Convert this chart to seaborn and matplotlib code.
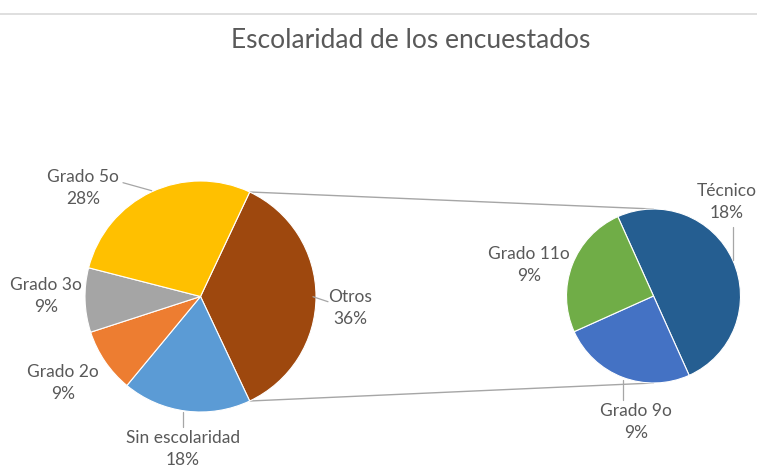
import numpy as np
import seaborn as sns
import matplotlib.pyplot as plt

# ---------------------------------------------------------------
# Data
# ---------------------------------------------------------------
main_labels = ['Otros', 'Sin escolaridad', 'Grado 2o', 'Grado 3o', 'Grado 5o']
main_values = [36, 18, 9, 9, 28]
main_colors = ['#9E480E', '#5B9BD5', '#ED7D31', '#A5A5A5', '#FFC000']

sub_labels = ['Técnico', 'Grado 9o', 'Grado 11o']
sub_values = [18, 9, 9]
sub_colors = ['#255E91', '#4472C4', '#70AD47']

# layout (pixel space, y pointing up)
W, H = 757, 468
main_center, main_r = (200.5, H - 296.5), 115.5
sub_center, sub_r = (653.5, H - 296.0), 87.0

# label block centres and leader lines (pixel space, y down as in picture)
main_label_pos = {'Otros': (350, 308), 'Sin escolaridad': (183, 449),
                  'Grado 2o': (63, 383), 'Grado 3o': (46, 296),
                  'Grado 5o': (83, 188)}
sub_label_pos = {'Técnico': (727, 202), 'Grado 9o': (636, 422),
                 'Grado 11o': (529, 265)}
leaders = [((123, 182.7), (151.7, 190.7)), ((313, 296.7), (328, 301.7)),
           ((182.7, 411.7), (182.7, 426.7)), ((732.7, 226.7), (732.7, 260)),
           ((623.3, 380), (623.3, 400))]

sns.set_theme(style='white')
plt.rcParams['font.family'] = ['Lato', 'DejaVu Sans']
text_color = '#595959'

fig = plt.figure(figsize=(W / 100, H / 100), dpi=100)
ax = fig.add_axes([0, 0, 1, 1])

# main pie: "Otros" wedge centred on the right side
otros_span = 360 * main_values[0] / sum(main_values)
ax.pie(main_values, colors=main_colors, startangle=otros_span / 2,
       counterclock=False, radius=main_r, center=main_center,
       wedgeprops=dict(edgecolor='white', linewidth=0.8))

# secondary pie
ax.pie(sub_values, colors=sub_colors, startangle=114.2,
       counterclock=False, radius=sub_r, center=sub_center,
       wedgeprops=dict(edgecolor='white', linewidth=0.8))

# connector lines from the edges of the "Otros" wedge to the secondary pie
a = np.deg2rad(otros_span / 2)
for sign in (1, -1):
    x0 = main_center[0] + main_r * np.cos(a)
    y0 = main_center[1] + sign * main_r * np.sin(a)
    x1, y1 = sub_center[0], sub_center[1] + sign * sub_r
    ax.plot([x0, x1], [y0, y1], color='#A6A6A6', lw=1.0, zorder=0)

# data labels
for lab, v in zip(main_labels, main_values):
    x, y = main_label_pos[lab]
    ax.text(x, H - y, f'{lab}\n{v}%', ha='center', va='center',
            fontsize=12.5, color=text_color, linespacing=1.45)
for lab, v in zip(sub_labels, sub_values):
    x, y = sub_label_pos[lab]
    ax.text(x, H - y, f'{lab}\n{v}%', ha='center', va='center',
            fontsize=12.5, color=text_color, linespacing=1.45)

for (p0, p1) in leaders:
    ax.plot([p0[0], p1[0]], [H - p0[1], H - p1[1]], color='#A6A6A6', lw=0.9)

# thin border line at the top of the chart area
ax.plot([0, W], [H - 14, H - 14], color='#D9D9D9', lw=1.2)

ax.text(411, H - 41, 'Escolaridad de los encuestados', ha='center',
        va='center', fontsize=19, color=text_color)

ax.set_xlim(0, W)
ax.set_ylim(0, H)
ax.set_aspect('equal')
ax.axis('off')

fig.savefig('out.png', dpi=100, facecolor='white')
